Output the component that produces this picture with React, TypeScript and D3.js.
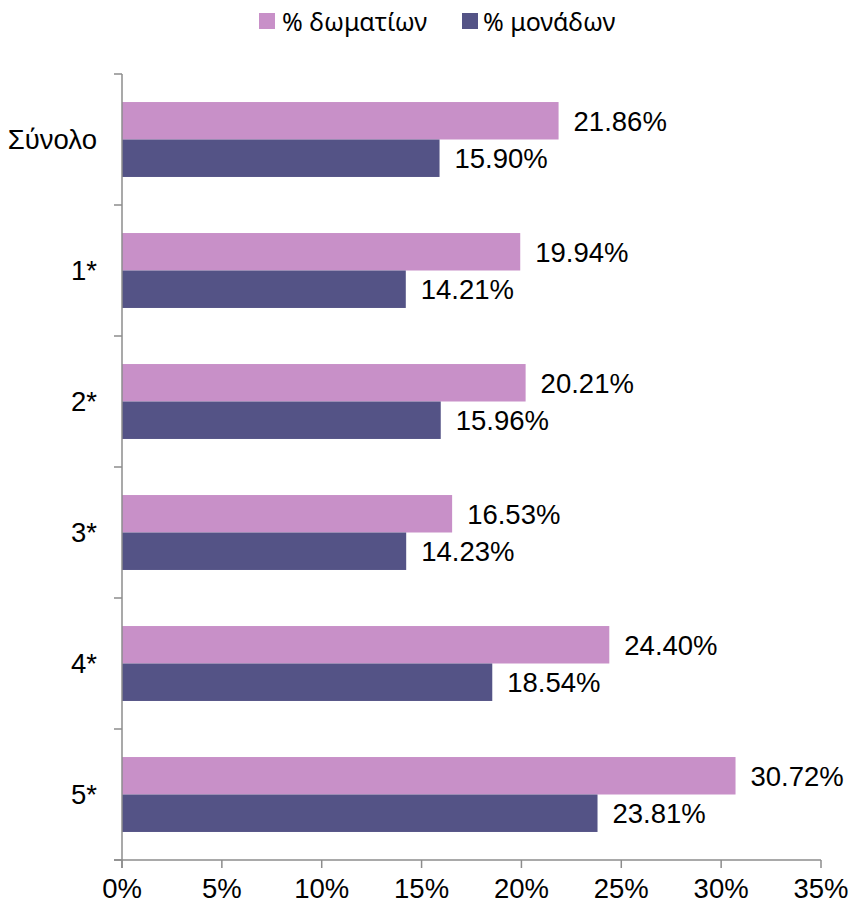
import React from "react";
import * as d3 from "d3";

const categories = ["Σύνολο", "1*", "2*", "3*", "4*", "5*"];
const roomsPct = [21.86, 19.94, 20.21, 16.53, 24.4, 30.72];
const unitsPct = [15.9, 14.21, 15.96, 14.23, 18.54, 23.81];
const seriesNames = ["% δωματίων", "% μονάδων"];
const xTicks = [0, 5, 10, 15, 20, 25, 30, 35];

const W = 853;
const H = 906;
const colors = ["#C890C8", "#545386"];
const axisColor = "#8C8C8C";
const font = "'Liberation Sans', Arial, sans-serif";
const greekFont = "'Noto Sans', sans-serif";

export default function App() {
  const x = d3.scaleLinear().domain([0, 35]).range([122, 821]);
  const y = d3.scaleBand().domain(categories).range([74, 860]).paddingInner(0.428).paddingOuter(0.214);
  const bw = y.bandwidth() / 2;
  const series = [roomsPct, unitsPct];

  return (
    <svg width={W} height={H} style={{ position: "absolute", left: 0, top: 0, background: "#fff" }}>
      {/* legend */}
      <g>
        <rect x={259} y={13} width={16} height={16} fill={colors[0]} />
        <text x={282} y={31} fontFamily={greekFont} fontSize={25} fill="#000">{seriesNames[0]}</text>
        <rect x={462} y={13} width={16} height={16} fill={colors[1]} />
        <text x={483} y={31} fontFamily={greekFont} fontSize={25} fill="#000">{seriesNames[1]}</text>
      </g>
      {/* bars */}
      {categories.map((c, i) => (
        <g key={c}>
          {series.map((s, k) => {
            const y0 = (y(c) as number) + k * bw;
            return (
              <g key={k}>
                <rect x={x(0)} y={y0} width={x(s[i]) - x(0)} height={bw} fill={colors[k]} />
                <text x={x(s[i]) + 15} y={y0 + bw / 2} dy="0.36em" fontFamily={font} fontSize={27.5} fill="#000">
                  {s[i].toFixed(2) + "%"}
                </text>
              </g>
            );
          })}
        </g>
      ))}
      {/* y axis */}
      <line x1={122} x2={122} y1={74} y2={868} stroke={axisColor} strokeWidth={1.5} />
      {d3.range(categories.length + 1).map((j) => {
        const yy = 74 + (j * (860 - 74)) / categories.length;
        return <line key={j} x1={114} x2={122} y1={yy} y2={yy} stroke={axisColor} strokeWidth={1.5} />;
      })}
      {categories.map((c) => (
        <text
          key={c}
          x={97}
          y={(y(c) as number) + y.bandwidth() / 2}
          dy="0.36em"
          textAnchor="end"
          fontFamily={font}
          fontSize={27.5}
          fill="#000"
        >
          {c}
        </text>
      ))}
      {/* x axis */}
      <line x1={114} x2={821} y1={860} y2={860} stroke={axisColor} strokeWidth={1.5} />
      {xTicks.map((t) => (
        <g key={t}>
          <line x1={x(t)} x2={x(t)} y1={860} y2={868} stroke={axisColor} strokeWidth={1.5} />
          <text x={x(t)} y={888} dy="0.36em" textAnchor="middle" fontFamily={font} fontSize={27.5} fill="#000">
            {t + "%"}
          </text>
        </g>
      ))}
    </svg>
  );
}
